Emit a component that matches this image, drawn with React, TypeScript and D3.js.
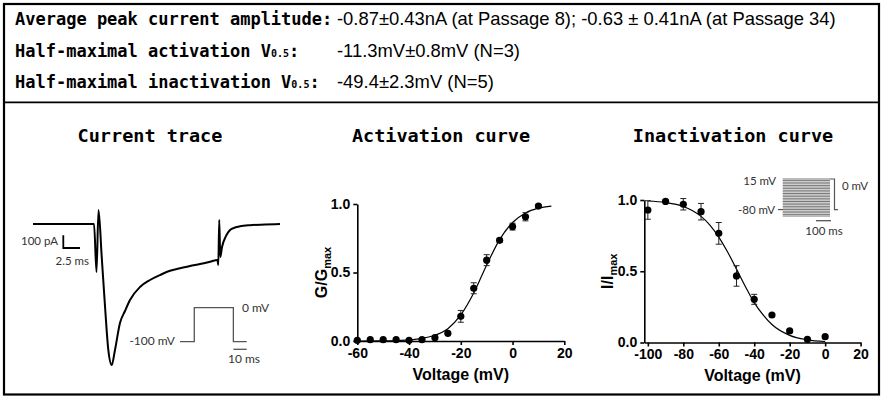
import React, { useEffect, useRef } from "react";
import * as d3 from "d3";

// ---- text ----
const infoLabels = ["Average peak current amplitude:", "Half-maximal activation V", "Half-maximal inactivation V"];
const infoSubs = ["", "0.5", "0.5"];
const infoValues = [
  "-0.87±0.43nA (at Passage 8); -0.63 ± 0.41nA (at Passage 34)",
  "-11.3mV±0.8mV (N=3)",
  "-49.4±2.3mV (N=5)",
];
const panelTitles = ["Current trace", "Activation curve", "Inactivation curve"];

// ---- activation ----
const actVoltage = [-60, -55, -50, -45, -40, -35, -30, -25, -20, -15, -10, -5, 0, 5, 10];
const actMean = [0.005, 0.01, 0.01, 0.01, 0.005, 0.01, 0.024, 0.056, 0.18, 0.385, 0.59, 0.735, 0.835, 0.907, 0.985];
const actErr = [0, 0, 0, 0, 0, 0, 0.01, 0.01, 0.043, 0.04, 0.04, 0.015, 0.025, 0.03, 0.012];
const actFitV = [-60, -50, -45, -40, -35, -30, -25, -20, -15, -10, -5, 0, 5, 10, 15];
const actFit = [0.0, 0.001, 0.003, 0.008, 0.019, 0.042, 0.09, 0.19, 0.35, 0.555, 0.74, 0.865, 0.935, 0.97, 0.985];
const actXTicks = [-60, -40, -20, 0, 20];

// ---- inactivation ----
const inactVoltage = [-100, -90, -80, -70, -60, -50, -40, -30, -20, -10, 0];
const inactMean = [0.93, 0.99, 0.97, 0.918, 0.766, 0.467, 0.303, 0.193, 0.081, 0.022, 0.041];
const inactErr = [0.065, 0.01, 0.04, 0.058, 0.076, 0.072, 0.035, 0.01, 0.01, 0.01, 0.01];
const inactFitV = [-100, -90, -80, -75, -70, -65, -60, -55, -50, -45, -40, -35, -30, -20, -10, 0];
const inactFit = [0.993, 0.982, 0.954, 0.926, 0.885, 0.824, 0.74, 0.635, 0.515, 0.393, 0.28, 0.194, 0.126, 0.05, 0.019, 0.007];
const inactXTicks = [-100, -80, -60, -40, -20, 0, 20];
const yTicks = [0, 0.5, 1];

// ---- current trace (ms, pA) ----
const traceTime = [0, 9.15, 9.52, 9.82, 10.3, 10.8, 11.29, 11.8, 12.29, 13.04, 13.79, 14.54, 16.04, 17.54, 19.04, 20.54,
  22.04, 23.54, 25.04, 26.54, 27.66, 27.78, 27.92, 28.08, 28.34, 28.94, 29.54, 30.28, 31.03, 32.53, 34.78, 37.03];
const traceCurrent = [0, 0, -378, 110, -257, -651, -992, -1110, -992, -780, -685, -598, -496, -441, -402, -368,
  -349, -331, -315, -297, -283, -323, 31, -260, -181, -94, -47, -28, -18, -9, -4, 0];

// ---- voltage protocols ----
const stepTime = [0, 10.7, 10.7, 40, 40, 50];
const stepVoltage = [-100, -100, 0, 0, -100, -100];
const prepulseLevels = [-100, -95, -90, -85, -80, -75, -70, -65, -60, -55, -50, -45, -40, -35, -30, -25, -20, -15, -10, -5, 0, 5, 10, 15];

const monoFont = "'DejaVu Sans Mono', monospace";
const sansFont = "'Liberation Sans', Arial, sans-serif";
const noteFont = "Lato, 'Open Sans', sans-serif";

const App = () => {
  const svgRef = useRef<SVGSVGElement>(null);

  useEffect(() => {
    const svg = d3.select(svgRef.current);
    svg.selectAll("*").remove();

    // frame
    svg.append("rect").attr("x", 4).attr("y", 4).attr("width", 875).attr("height", 390.5)
      .attr("fill", "#fff").attr("stroke", "#000").attr("stroke-width", 2.2);
    svg.append("line").attr("x1", 4).attr("x2", 879).attr("y1", 102.3).attr("y2", 102.3)
      .attr("stroke", "#000").attr("stroke-width", 1.8);

    // info lines
    const infoY = [25, 56.5, 88];
    infoLabels.forEach((lab, i) => {
      const t = svg.append("text").attr("x", 15).attr("y", infoY[i])
        .attr("font-family", monoFont).attr("font-weight", "bold").attr("font-size", 17);
      t.append("tspan").text(lab);
      if (infoSubs[i]) {
        t.append("tspan").attr("font-size", 10).text(infoSubs[i]);
        t.append("tspan").text(":");
      }
      svg.append("text").attr("x", 337).attr("y", infoY[i])
        .attr("font-family", sansFont).attr("font-size", 18.4).text(infoValues[i]);
    });

    // titles
    const titleX = [150, 441, 733];
    panelTitles.forEach((tt, i) => {
      svg.append("text").attr("x", titleX[i]).attr("y", 142).attr("text-anchor", "middle")
        .attr("font-family", monoFont).attr("font-weight", "bold").attr("font-size", 18.5).text(tt);
    });

    // ---- current trace ----
    const tx = d3.scaleLinear().domain([0, 37]).range([33, 279.8]);
    const ty = d3.scaleLinear().domain([-1200, 200]).range([376.4, 198.6]);
    const traceLine = d3.line<number>().x((d, i) => tx(traceTime[i])).y((d) => ty(d)).curve(d3.curveMonotoneX);
    svg.append("path").attr("d", traceLine(traceCurrent)).attr("fill", "none")
      .attr("stroke", "#000").attr("stroke-width", 2).attr("stroke-linejoin", "round");

    // scale bar 100 pA / 2.5 ms
    const sb = svg.append("g").attr("transform", "translate(63.3,248)");
    const px100 = ty(0) - ty(100);
    const ms25 = tx(2.5) - tx(0);
    sb.append("path").attr("d", `M0,${-px100}V0H${ms25}`).attr("fill", "none").attr("stroke", "#000").attr("stroke-width", 1.8);
    svg.append("text").attr("x", 58).attr("y", 245).attr("text-anchor", "end")
      .attr("font-family", noteFont).attr("font-size", 11.5).attr("fill", "#333").text("100 pA");
    svg.append("text").attr("x", 89).attr("y", 265).attr("text-anchor", "end")
      .attr("font-family", noteFont).attr("font-size", 11.5).attr("fill", "#333").text("2.5 ms");

    // step protocol
    const px = d3.scaleLinear().domain([0, 50]).range([180, 246.7]);
    const pv = d3.scaleLinear().domain([-100, 0]).range([341.7, 307.7]);
    const stepLine = d3.line<number>().x((d, i) => px(stepTime[i])).y((d) => pv(d));
    svg.append("path").attr("d", stepLine(stepVoltage)).attr("fill", "none").attr("stroke", "#555").attr("stroke-width", 1.3);
    svg.append("line").attr("x1", px(40)).attr("x2", px(50)).attr("y1", 349.3).attr("y2", 349.3)
      .attr("stroke", "#555").attr("stroke-width", 1.3);
    svg.append("text").attr("x", 175).attr("y", 345).attr("text-anchor", "end")
      .attr("font-family", noteFont).attr("font-size", 12).attr("fill", "#333").text("-100 mV");
    svg.append("text").attr("x", 242).attr("y", 311.5)
      .attr("font-family", noteFont).attr("font-size", 12).attr("fill", "#333").text("0 mV");
    svg.append("text").attr("x", 244).attr("y", 362.5).attr("text-anchor", "middle")
      .attr("font-family", noteFont).attr("font-size", 12).attr("fill", "#333").text("10 ms");

    // ---- x/y plot helper ----
    const drawPlot = (
      xDomain: number[], xRange: number[], yRange: number[], xTicks: number[],
      volts: number[], mean: number[], err: number[], fitV: number[], fit: number[],
      yMain: string, labelX: number
    ) => {
      const x = d3.scaleLinear().domain(xDomain).range(xRange);
      const y = d3.scaleLinear().domain([0, 1]).range(yRange);
      const g = svg.append("g");

      const xa = g.append("g").attr("transform", `translate(0,${yRange[0]})`)
        .call(d3.axisBottom(x).tickValues(xTicks).tickSize(4).tickSizeOuter(0).tickPadding(3).tickFormat(d3.format("d")));
      const ya = g.append("g").attr("transform", `translate(${xRange[0]},0)`)
        .call(d3.axisLeft(y).tickValues(yTicks).tickSize(4).tickSizeOuter(0).tickPadding(3).tickFormat(d3.format(".1f")));
      [xa, ya].forEach((a) => {
        a.selectAll("path,line").attr("stroke", "#000").attr("stroke-width", 1.6);
        a.selectAll("text").attr("font-family", sansFont).attr("font-weight", "bold").attr("font-size", 14).attr("fill", "#000");
      });
      xa.selectAll("text").text((d: any) => (d < 0 ? "-" + Math.abs(d) : String(d)));

      g.append("text").attr("x", (xRange[0] + xRange[1]) / 2).attr("y", yRange[0] + 38.5).attr("text-anchor", "middle")
        .attr("font-family", sansFont).attr("font-weight", "bold").attr("font-size", 16).text("Voltage (mV)");
      const yl = g.append("text")
        .attr("transform", `translate(${labelX},${(yRange[0] + yRange[1]) / 2}) rotate(-90)`)
        .attr("text-anchor", "middle").attr("font-family", sansFont).attr("font-weight", "bold").attr("font-size", 16);
      yl.append("tspan").text(yMain);
      yl.append("tspan").attr("font-size", 11).attr("dy", 4).text("max");

      const fitLine = d3.line<number>().x((d, i) => x(fitV[i])).y((d) => y(d)).curve(d3.curveMonotoneX);
      g.append("path").attr("d", fitLine(fit)).attr("fill", "none").attr("stroke", "#000").attr("stroke-width", 1.2);

      const eb = g.append("g").attr("stroke", "#222").attr("stroke-width", 1);
      volts.forEach((v, i) => {
        if (err[i] <= 0) return;
        const cx = x(v);
        eb.append("line").attr("x1", cx).attr("x2", cx).attr("y1", y(mean[i] - err[i])).attr("y2", y(mean[i] + err[i]));
        [mean[i] - err[i], mean[i] + err[i]].forEach((e) => {
          eb.append("line").attr("x1", cx - 3).attr("x2", cx + 3).attr("y1", y(e)).attr("y2", y(e));
        });
      });
      g.selectAll("circle.pt").data(volts).join("circle").attr("class", "pt")
        .attr("cx", (d) => x(d)).attr("cy", (d, i) => y(mean[i])).attr("r", 3.6).attr("fill", "#000");
    };

    drawPlot([-60, 20], [357.3, 564.3], [341, 204], actXTicks, actVoltage, actMean, actErr, actFitV, actFit, "G/G", 327);
    drawPlot([-102, 20], [644.3, 860.6], [342.5, 200], inactXTicks, inactVoltage, inactMean, inactErr, inactFitV, inactFit, "I/I", 613);

    // ---- inactivation protocol inset ----
    const iv = d3.scaleLinear().domain([-100, 15]).range([216, 179]);
    const it = d3.scaleLinear().domain([0, 100]).range([816, 831]);
    const ins = svg.append("g");
    prepulseLevels.forEach((v) => {
      ins.append("line").attr("x1", 782.7).attr("x2", 830).attr("y1", iv(v)).attr("y2", iv(v))
        .attr("stroke", "#777").attr("stroke-width", 1);
    });
    ins.append("line").attr("x1", 778).attr("x2", 783).attr("y1", iv(-80)).attr("y2", iv(-80)).attr("stroke", "#555").attr("stroke-width", 1.2);
    ins.append("path").attr("d", `M830,${iv(15)}H834.5V${iv(-80)}H838`).attr("fill", "none").attr("stroke", "#555").attr("stroke-width", 1.2);
    ins.append("line").attr("x1", it(0)).attr("x2", it(100)).attr("y1", 220.7).attr("y2", 220.7).attr("stroke", "#555").attr("stroke-width", 1.3);
    ins.append("text").attr("x", 776).attr("y", 185).attr("text-anchor", "end")
      .attr("font-family", noteFont).attr("font-size", 11.5).attr("fill", "#333").text("15 mV");
    ins.append("text").attr("x", 775).attr("y", 213.5).attr("text-anchor", "end")
      .attr("font-family", noteFont).attr("font-size", 11.5).attr("fill", "#333").text("-80 mV");
    ins.append("text").attr("x", 842).attr("y", 190).attr("font-family", noteFont).attr("font-size", 11.5).attr("fill", "#333").text("0 mV");
    ins.append("text").attr("x", 824).attr("y", 234.5).attr("text-anchor", "middle")
      .attr("font-family", noteFont).attr("font-size", 11.5).attr("fill", "#333").text("100 ms");
  }, []);

  return (
    <svg ref={svgRef} width={882} height={397}
      style={{ position: "absolute", left: 0, top: 0, background: "#fff" }} />
  );
};

export default App;
